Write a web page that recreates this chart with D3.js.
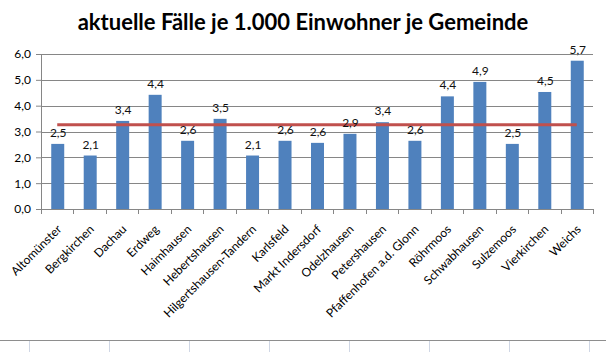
<!DOCTYPE html>
<html>
<head>
<meta charset="utf-8">
<script src="https://cdn.jsdelivr.net/npm/d3@7"></script>
<style>
  body { margin: 0; background: #fff; }
  svg { display: block; }
</style>
</head>
<body>
<div id="chart"></div>
<script>
// data
var gemeinden = ["Altomünster", "Bergkirchen", "Dachau", "Erdweg", "Haimhausen",
       "Hebertshausen", "Hilgertshausen-Tandern", "Karlsfeld", "Markt Indersdorf",
       "Odelzhausen", "Petershausen", "Pfaffenhofen a.d. Glonn", "Röhrmoos",
       "Schwabhausen", "Sulzemoos", "Vierkirchen", "Weichs"];
var faelle = [2.52, 2.07, 3.41, 4.42, 2.64, 3.49, 2.07, 2.64, 2.56, 2.91, 3.36,
       2.64, 4.36, 4.92, 2.52, 4.53, 5.74];
var durchschnitt = 3.26;
var yTicks = [0, 1, 2, 3, 4, 5, 6];
var sheetColumns = [29, 109, 189, 269, 349, 429, 509, 589];

var W = 606, H = 352;
var margin = { top: 54, right: 13, bottom: 143, left: 41 };
var width = W - margin.left - margin.right;
var height = H - margin.top - margin.bottom;

var de = d3.formatLocale({ decimal: ",", thousands: ".", grouping: [3], currency: ["", " €"] });
var fmt = de.format(".1f");

var svg = d3.select("#chart")
       .append("svg")
       .attr("width", W)
       .attr("height", H)
       .style("font-family", "Lato, 'Open Sans', sans-serif");

// sheet cells below the chart
svg.append("g")
       .selectAll("line")
       .data(sheetColumns)
       .enter()
       .append("line")
       .attr("x1", d => d + 0.5).attr("x2", d => d + 0.5)
       .attr("y1", 340).attr("y2", H)
       .style("stroke", "#d0d7e5");
svg.append("line")
       .attr("x1", 0).attr("x2", W)
       .attr("y1", 340.5).attr("y2", 340.5)
       .style("stroke", "#8e8e8e");

svg.append("text")
       .attr("x", W / 2)
       .attr("y", 30)
       .attr("text-anchor", "middle")
       .style("font-size", "22px")
       .style("font-weight", "bold")
       .text("aktuelle Fälle je 1.000 Einwohner je Gemeinde");

var g = svg.append("g")
       .attr("transform", "translate(" + margin.left + "," + margin.top + ")");

var x = d3.scaleBand()
       .domain(gemeinden)
       .range([0, width])
       .paddingInner(0.6)
       .paddingOuter(0.3);

var xc = d3.scalePoint()
       .domain(gemeinden)
       .range([0, width])
       .padding(0.5);

var y = d3.scaleLinear()
       .domain([0, 6])
       .range([height, 0]);

// gridlines + y axis
var yAxis = g.append("g")
       .call(d3.axisLeft(y)
              .tickValues(yTicks)
              .tickSize(5)
              .tickPadding(5)
              .tickFormat(fmt));
yAxis.select(".domain").remove();
yAxis.selectAll(".tick line").style("stroke", "#868686");
yAxis.selectAll(".tick text")
       .style("font-size", "12px")
       .style("font-family", "Lato, sans-serif")
       .style("fill", "#000");

g.append("g")
       .selectAll("line")
       .data(yTicks)
       .enter()
       .append("line")
       .attr("x1", 0).attr("x2", width)
       .attr("y1", d => Math.round(y(d)) + 0.5)
       .attr("y2", d => Math.round(y(d)) + 0.5)
       .style("stroke", "#868686");

g.append("line")
       .attr("x1", 0.5).attr("x2", 0.5)
       .attr("y1", 0).attr("y2", height)
       .style("stroke", "#868686");

// bars
g.selectAll("rect.bar")
       .data(faelle)
       .enter()
       .append("rect")
       .attr("class", "bar")
       .attr("x", (d, i) => xc(gemeinden[i]) - x.bandwidth() / 2 + 0.5)
       .attr("y", d => y(d))
       .attr("width", x.bandwidth())
       .attr("height", d => y(0) - y(d))
       .style("fill", "#4f81bd");

// x axis ticks between categories
var step = width / gemeinden.length;
g.append("g")
       .selectAll("line")
       .data(d3.range(gemeinden.length + 1))
       .enter()
       .append("line")
       .attr("x1", i => Math.round(i * step) + 0.5)
       .attr("x2", i => Math.round(i * step) + 0.5)
       .attr("y1", height).attr("y2", height + 5)
       .style("stroke", "#868686");
g.append("line")
       .attr("x1", 0).attr("x2", width)
       .attr("y1", height + 0.5).attr("y2", height + 0.5)
       .style("stroke", "#868686");

// category labels
g.append("g")
       .selectAll("text")
       .data(gemeinden)
       .enter()
       .append("text")
       .attr("transform", d => "translate(" + (xc(d) + 5) + "," + (height + 21) + ") rotate(-45)")
       .attr("text-anchor", "end")
       .style("font-size", "12px")
       .text(d => d);

// average line
g.append("line")
       .attr("x1", xc(gemeinden[0]))
       .attr("x2", xc(gemeinden[gemeinden.length - 1]))
       .attr("y1", y(durchschnitt))
       .attr("y2", y(durchschnitt))
       .style("stroke", "#c0504d")
       .style("stroke-width", 3);

// value labels
g.selectAll("text.val")
       .data(faelle)
       .enter()
       .append("text")
       .attr("class", "val")
       .attr("x", (d, i) => xc(gemeinden[i]) + 1)
       .attr("y", d => y(d) - 7)
       .attr("text-anchor", "middle")
       .style("font-size", "12px")
       .style("fill", "#111")
       .text(d => fmt(d));
</script>
</body>
</html>
